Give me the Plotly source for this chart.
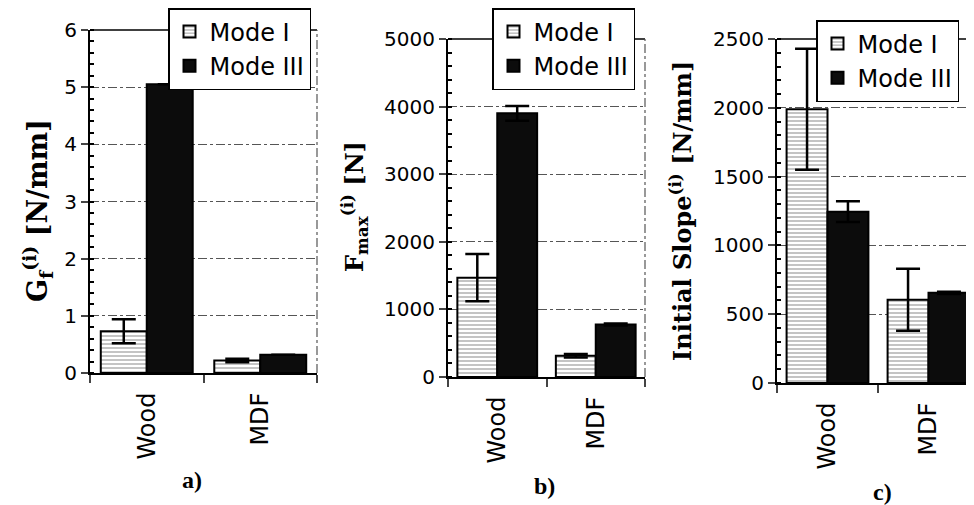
import plotly.graph_objects as go

categories = ["Wood", "MDF"]
series_names = ["Mode I", "Mode III"]

# Panel a) Gf [N/mm]
gf_mode1 = [0.73, 0.22]
gf_mode1_err = [0.21, 0.03]
gf_mode3 = [5.05, 0.32]
gf_mode3_err = [0.0, 0.0]

# Panel b) Fmax [N]
fmax_mode1 = [1470, 315]
fmax_mode1_err = [350, 25]
fmax_mode3 = [3900, 775]
fmax_mode3_err = [110, 15]

# Panel c) Initial slope [N/mm]
slope_mode1 = [1990, 605]
slope_mode1_err = [440, 225]
slope_mode3 = [1245, 655]
slope_mode3_err = [75, 8]

ticks_a = [0, 1, 2, 3, 4, 5, 6]
ticks_b = [0, 1000, 2000, 3000, 4000, 5000]
ticks_c = [0, 500, 1000, 1500, 2000, 2500]

W, H = 974, 505
OX, OY = 8, 8  # page body margin offset


def px(x):
    return (x - OX) / W


def py(y):
    return 1 - (y - OY) / H


panels = [
    dict(m1=gf_mode1, e1=gf_mode1_err, m3=gf_mode3, e3=gf_mode3_err, ticks=ticks_a,
         minor=0.2, xd=[px(90), px(317)], yd=[py(373), py(30)], leg=(168, 8)),
    dict(m1=fmax_mode1, e1=fmax_mode1_err, m3=fmax_mode3, e3=fmax_mode3_err, ticks=ticks_b,
         minor=200, xd=[px(448), px(645)], yd=[py(377), py(39)], leg=(492, 8)),
    dict(m1=slope_mode1, e1=slope_mode1_err, m3=slope_mode3, e3=slope_mode3_err, ticks=ticks_c,
         minor=100, xd=[px(777), px(979)], yd=[py(383), py(39)], leg=(816, 20)),
]

fig = go.Figure()
layout = dict(
    width=W, height=H,
    margin=dict(l=0, r=0, t=0, b=0, pad=0, autoexpand=False),
    paper_bgcolor="white", plot_bgcolor="white",
    barmode="group", bargap=0.19, bargroupgap=0.0,
    font=dict(family="DejaVu Sans", color="black"),
    showlegend=True,
)

for i, p in enumerate(panels):
    n = "" if i == 0 else str(i + 1)
    legname = "legend" + n
    fig.add_trace(go.Bar(
        x=categories, y=p["m1"], name=series_names[0],
        xaxis="x" + n, yaxis="y" + n, legend=legname,
        marker=dict(color="white", line=dict(color="black", width=2),
                    pattern=dict(shape="-", fgcolor="#6a6a6a", bgcolor="white", size=4, solidity=0.4)),
        error_y=dict(type="data", array=p["e1"], visible=True, color="black", thickness=2.5, width=12),
    ))
    fig.add_trace(go.Bar(
        x=categories, y=p["m3"], name=series_names[1],
        xaxis="x" + n, yaxis="y" + n, legend=legname,
        marker=dict(color="#0c0c0c", line=dict(color="black", width=2)),
        error_y=dict(type="data", array=p["e3"], visible=True, color="black", thickness=2.5, width=12),
    ))
    layout["xaxis" + n] = dict(
        domain=p["xd"], anchor="y" + n, showline=True, linecolor="black", linewidth=2,
        mirror=False, ticks="outside", tickson="boundaries", ticklen=8, tickwidth=1.5,
        tickangle=-90, tickfont=dict(size=24, family="DejaVu Sans"), showgrid=False,
        automargin=False, ticklabelstandoff=8,
    )
    layout["yaxis" + n] = dict(
        domain=p["yd"], anchor="x" + n, range=[0, p["ticks"][-1]], tickvals=p["ticks"],
        showline=True, linecolor="black", linewidth=2, ticks="outside", ticklen=7, tickwidth=1.5,
        tickfont=dict(size=20, family="DejaVu Sans"), automargin=False,
        showgrid=True, gridcolor="#555555", gridwidth=1, griddash="dashdot",
        minor=dict(dtick=p["minor"], ticks="inside", ticklen=4, tickcolor="black", showgrid=False),
        zeroline=False,
    )
    layout[legname] = dict(
        x=px(p["leg"][0]), y=py(p["leg"][1]), xref="container", yref="container",
        xanchor="left", yanchor="top",
        bgcolor="white", bordercolor="black", borderwidth=1.5,
        font=dict(size=24, family="DejaVu Sans", color="black"),
        itemsizing="constant", tracegroupgap=0, itemwidth=30,
    )

fig.update_layout(**layout)

shapes = []
for i in range(3):
    n = "" if i == 0 else str(i + 1)
    xr = "x" + n + " domain"
    yr = "y" + n + " domain"
    shapes.append(dict(type="line", xref=xr, yref=yr, x0=0, x1=1, y0=1, y1=1,
                       line=dict(color="black", width=1.5)))
    shapes.append(dict(type="line", xref=xr, yref=yr, x0=1, x1=1, y0=0, y1=1,
                       line=dict(color="#555555", width=1.2, dash="dashdot")))
fig.update_layout(shapes=shapes)

annotations = [
    dict(text="<b>G<sub>f</sub><sup>(i)</sup> [N/mm]</b>", x=px(37), y=py(211), textangle=-90, size=27),
    dict(text="<b>F<sub>max</sub><sup>(i)</sup> [N]</b>", x=px(354), y=py(207), textangle=-90, size=24),
    dict(text="<b>Initial Slope<sup>(i)</sup> [N/mm]</b>", x=px(681), y=py(211), textangle=-90, size=24),
]
for a in annotations:
    s = a.pop("size")
    a.update(xref="paper", yref="paper", showarrow=False, xanchor="center", yanchor="middle",
             font=dict(family="DejaVu Serif", size=s, color="black"))
labels = [("a)", 192, 480), ("b)", 544, 486), ("c)", 882, 492)]
for t, x, y in labels:
    annotations.append(dict(text="<b>" + t + "</b>", x=px(x), y=py(y), xref="paper", yref="paper",
                            showarrow=False, xanchor="center", yanchor="middle",
                            font=dict(family="Liberation Serif", size=24, color="black")))
fig.update_layout(annotations=annotations)

fig.write_html("out.html")
